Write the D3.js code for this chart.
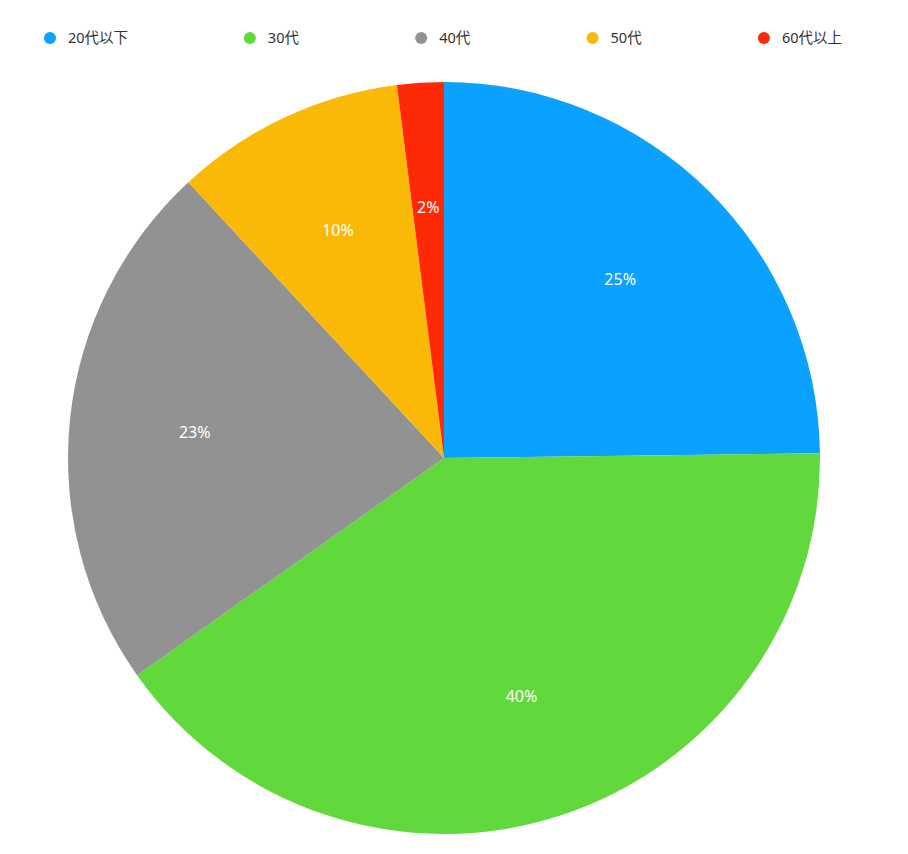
<!DOCTYPE html>
<html>
<head>
<meta charset="utf-8">
<script src="https://d3js.org/d3.v7.min.js"></script>
<style>
body { margin: 0; background: #fff; }
text { font-family: "Noto Sans", "Noto Sans CJK JP", sans-serif; }
</style>
</head>
<body>
<svg width="908" height="854"></svg>
<script>
const categories = ["20代以下", "30代", "40代", "50代", "60代以上"];
const values = [24.8, 40.4, 22.9, 9.9, 2.0];
const colors = ["#0aa1ff", "#61d83b", "#929292", "#f9b906", "#fd2a05"];

const svg = d3.select("svg");
const cx = 444, cy = 458, r = 376;

const color = d3.scaleOrdinal().domain(categories).range(colors);
const total = d3.sum(values);
const data = categories.map((c, i) => ({ name: c, value: values[i] }));

const pie = d3.pie().sort(null).value(d => d.value);
const arc = d3.arc().innerRadius(0).outerRadius(r);
const labelArc = d3.arc().innerRadius(r * 2 / 3).outerRadius(r * 2 / 3);
const fmt = d3.format(".0%");

const g = svg.append("g").attr("transform", `translate(${cx},${cy})`);

const arcs = pie(data);

g.selectAll("path")
  .data(arcs)
  .enter()
  .append("path")
  .attr("d", arc)
  .attr("fill", d => color(d.data.name));

g.selectAll("text.lbl")
  .data(arcs)
  .enter()
  .append("text")
  .attr("class", "lbl")
  .attr("transform", d => `translate(${labelArc.centroid(d)})`)
  .attr("text-anchor", "middle")
  .attr("dy", "0.35em")
  .style("font-size", "16px")
  .style("fill", "white")
  .text(d => fmt(d.data.value / total));

// legend: items spread between left and right edges with equal gaps
const legend = svg.append("g");
const items = legend.selectAll("g")
  .data(categories)
  .enter()
  .append("g");

items.append("circle")
  .attr("cx", 6)
  .attr("cy", 0)
  .attr("r", 6)
  .attr("fill", d => color(d));

items.append("text")
  .attr("x", 24)
  .attr("dy", "0.35em")
  .style("font-size", "14.5px")
  .style("fill", "#333")
  .text(d => d);

const widths = [];
items.each(function() { widths.push(this.getBBox().width); });
const left = 44, right = 842;
const gap = (right - left - d3.sum(widths)) / (categories.length - 1);
let x = left;
items.attr("transform", (d, i) => {
  const t = `translate(${x},38)`;
  x += widths[i] + gap;
  return t;
});
</script>
</body>
</html>
